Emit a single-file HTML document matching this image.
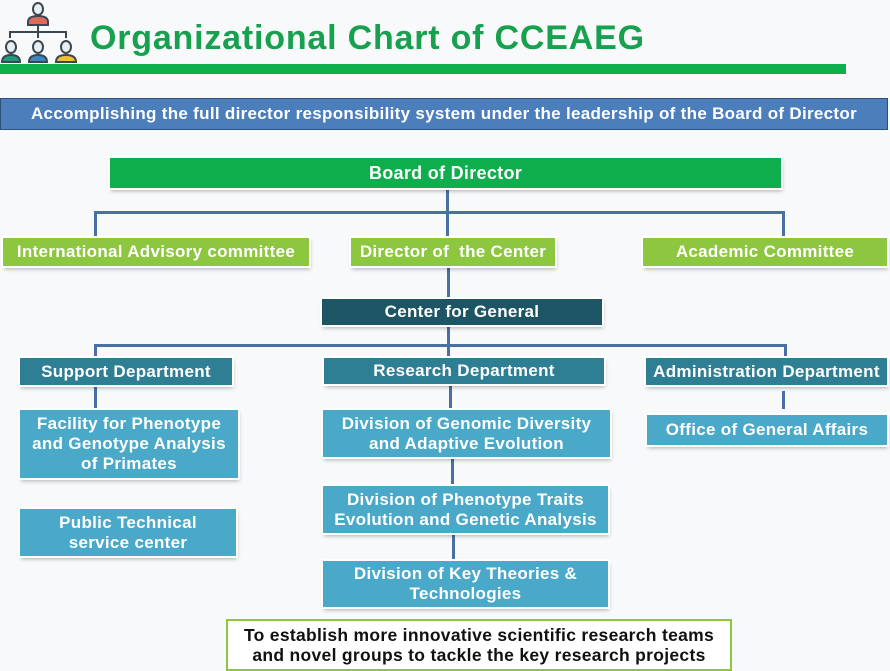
<!DOCTYPE html>
<html><head><meta charset="utf-8"><style>
body{margin:0;width:890px;height:671px;background:#f8f9fa;position:relative;overflow:hidden;font-family:"Liberation Sans",sans-serif;}
.b{position:absolute;display:flex;align-items:center;justify-content:center;text-align:center;color:#fff;font-weight:bold;box-shadow:0 0 0 2px #fff,1px 3px 4px rgba(0,0,0,0.3);line-height:20px;letter-spacing:0.3px;white-space:nowrap;}
.l{position:absolute;background:#4a6fa5;}
.lg{background:#8dc63f;font-size:17px;}
.dp{background:#2f7f94;font-size:17px;}
.dv{background:#4aa8c8;font-size:17px;}
</style></head><body>
<svg style="position:absolute;left:0;top:0" width="80" height="66" viewBox="0 0 80 66">
<g fill="#e9eef2" stroke="#3a4750" stroke-width="2">
<path d="M28 22 q0-6 10-6 q10 0 10 6 v3 h-20z" fill="#e2685a"/><ellipse cx="38" cy="9" rx="5" ry="6"/>
<path d="M2 62 q0-7 9-7 q9 0 9 7z" fill="#1f9a7a"/><ellipse cx="11" cy="47" rx="5" ry="6"/>
<path d="M29 62 q0-7 9-7 q9 0 9 7z" fill="#3a87c8"/><ellipse cx="38" cy="47" rx="5" ry="6"/>
<path d="M56 62 q0-7 10-7 q10 0 10 7z" fill="#f0c030"/><ellipse cx="66" cy="47" rx="5" ry="6"/>
</g>
<path d="M10 38 V32 H66 V38 M38 26 V38" fill="none" stroke="#3a4750" stroke-width="2"/>
</svg>
<div style="position:absolute;left:90px;top:19px;font-size:34px;font-weight:bold;color:#17a14e;letter-spacing:0.8px;white-space:nowrap">Organizational Chart of CCEAEG</div>
<div style="position:absolute;left:0;top:64px;width:846px;height:10px;background:#0db04b"></div>
<div style="position:absolute;left:0;top:98px;width:886px;height:30px;background:#4b7ebb;border:1px solid #2f4f7a;color:#fff;font-weight:bold;font-size:17px;letter-spacing:0.3px;display:flex;align-items:center;justify-content:center;white-space:nowrap">Accomplishing the full director responsibility system under the leadership of the Board of Director</div>

<div class="l" style="left:446px;top:190px;width:3px;height:48px"></div>
<div class="l" style="left:94px;top:211px;width:690px;height:3px"></div>
<div class="l" style="left:94px;top:211px;width:3px;height:27px"></div>
<div class="l" style="left:782px;top:211px;width:3px;height:27px"></div>
<div class="l" style="left:447px;top:266px;width:3px;height:34px"></div>
<div class="l" style="left:447px;top:325px;width:3px;height:34px"></div>
<div class="l" style="left:94px;top:344px;width:692px;height:3px"></div>
<div class="l" style="left:94px;top:344px;width:3px;height:14px"></div>
<div class="l" style="left:784px;top:344px;width:3px;height:14px"></div>
<div class="l" style="left:94px;top:386px;width:3px;height:24px"></div>
<div class="l" style="left:449px;top:384px;width:3px;height:26px"></div>
<div class="l" style="left:451px;top:457px;width:3px;height:29px"></div>
<div class="l" style="left:452px;top:533px;width:3px;height:28px"></div>
<div class="l" style="left:782px;top:391px;width:3px;height:18px"></div>

<div class="b" style="left:110px;top:158px;width:671px;height:30px;background:#0fae4c;font-size:18px">Board of Director</div>
<div class="b lg" style="left:3px;top:238px;width:306px;height:28px">International Advisory committee</div>
<div class="b lg" style="left:351px;top:238px;width:204px;height:28px">Director of &nbsp;the Center</div>
<div class="b lg" style="left:643px;top:238px;width:244px;height:28px">Academic Committee</div>
<div class="b" style="left:322px;top:299px;width:280px;height:26px;background:#1e5565;font-size:17px">Center for General</div>
<div class="b dp" style="left:20px;top:358px;width:212px;height:27px">Support Department</div>
<div class="b dp" style="left:324px;top:358px;width:280px;height:26px">Research Department</div>
<div class="b dp" style="left:646px;top:358px;width:241px;height:27px">Administration Department</div>
<div class="b dv" style="left:20px;top:410px;width:218px;height:68px">Facility for Phenotype<br>and Genotype Analysis<br>of Primates</div>
<div class="b dv" style="left:20px;top:509px;width:216px;height:47px">Public Technical<br>service center</div>
<div class="b dv" style="left:323px;top:410px;width:287px;height:47px">Division of Genomic Diversity<br>and Adaptive Evolution</div>
<div class="b dv" style="left:323px;top:486px;width:285px;height:47px">Division of Phenotype Traits<br>Evolution and Genetic Analysis</div>
<div class="b dv" style="left:323px;top:561px;width:285px;height:46px">Division of Key Theories &amp;<br>Technologies</div>
<div class="b dv" style="left:647px;top:415px;width:240px;height:30px">Office of General Affairs</div>
<div style="position:absolute;left:226px;top:619px;width:506px;height:52px;background:#fff;border:2px solid #8dc63f;box-sizing:border-box;color:#111;font-weight:bold;font-size:17.5px;letter-spacing:0.3px;line-height:20px;display:flex;align-items:center;justify-content:center;text-align:center;white-space:nowrap">To establish more innovative scientific research teams<br>and novel groups to tackle the key research projects</div>
</body></html>
